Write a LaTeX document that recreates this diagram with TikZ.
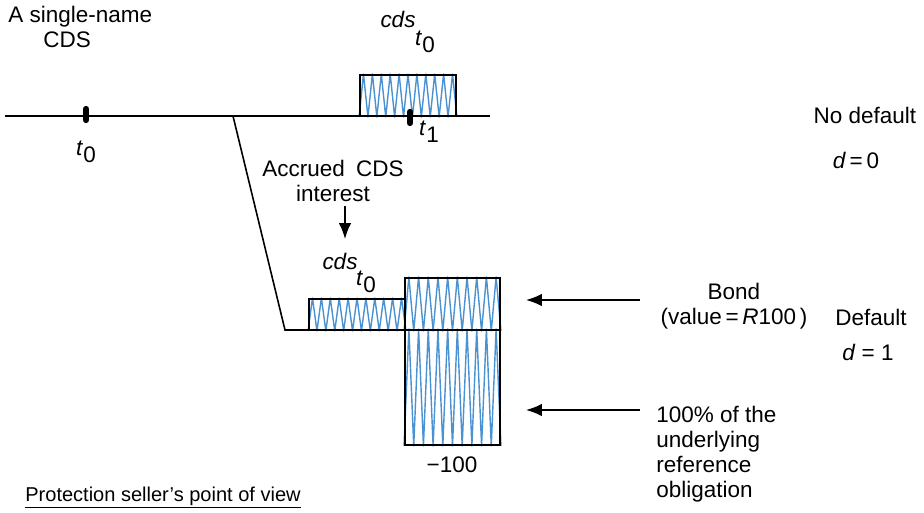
\documentclass[tikz,border=0pt]{standalone}
\usepackage{fontspec}
\setmainfont{Liberation Sans}
\usepackage{xcolor}
\usetikzlibrary{arrows.meta, positioning, backgrounds, calc}

\definecolor{zzblue}{RGB}{74,146,210}
\newcommand{\tsub}[1]{\textit{t}\raisebox{-0.6ex}{#1}}
% blue zigzag fill for a box node: name, number of teeth
\newcommand{\zigfill}[2]{%
  \draw[zigzag] (#1.south west) \foreach \k in {1,...,#2}{
    -- ($(#1.north west)!{(\k-0.5)/#2}!(#1.north east)$)
    -- ($(#1.south west)!{\k/#2}!(#1.south east)$) };}

\begin{document}
\begin{tikzpicture}[
    x=0.02cm, y=-0.02cm,
    txt/.style={font=\fontsize{12.8}{14.2}\selectfont, align=center, inner sep=0pt},
    cashbox/.style={rectangle, draw=black, line width=1.1pt, inner sep=0pt},
    zigzag/.style={zzblue, line width=0.8pt, line join=round},
    axis/.style={line width=0.9pt},
    tickmark/.style={line width=3.6pt, line cap=round},
    arrow/.style={-{Latex[length=9pt, width=7pt]}, line width=0.8pt}
]
\useasboundingbox (0,0) rectangle (924,513);

% Time line
\coordinate (start) at (5,116);
\coordinate (end) at (490,116);
\coordinate (branch) at (233,116);
\coordinate (kink) at (285,330);
\coordinate (lowend) at (500,330);

% Cash flows
\node[cashbox, minimum width=1.92cm, minimum height=0.82cm] (fee) at (408,95.5) {};
\node[cashbox, minimum width=1.92cm, minimum height=0.62cm] (accrued) at (357,314.5) {};
\node[cashbox, minimum width=1.9cm, minimum height=1.04cm] (bond) at (452.5,304) {};
\node[cashbox, minimum width=1.9cm, minimum height=2.3cm] (loss) at (452.5,387.5) {};

\begin{scope}[on background layer]
\zigfill{fee}{11}
\zigfill{accrued}{11}
\zigfill{bond}{10}
\zigfill{loss}{10}
\end{scope}

\draw[axis] (start) -- (end);
\draw[axis] (branch) -- (kink) -- (lowend);

% Ticks
\draw[tickmark] (86,109) -- (86,120);
\draw[tickmark] (410,112) -- (410,123);

% Labels
\node[txt, anchor=north west, align=left] (title) at (8,6) {A single-name\\\hspace*{20pt}CDS};
\node[txt] (t0) at (86,152) {\tsub{0}};
\node[txt] (t1) at (429,132) {\tsub{1}};
\node[txt] (cdsfee) at (398,19) {\textit{cds}};
\node[txt] (cdsfeesub) at (425,42) {\tsub{0}};
\node[txt] (accr) at (333,181) {Accrued\enspace CDS\\interest};
\node[txt] (cdsacc) at (340,261) {\textit{cds}};
\node[txt] (cdsaccsub) at (366,282) {\tsub{0}};
\node[txt] (bondtxt) at (734,306) {Bond\\(value\,=\,\textit{R}100\,)};
\node[txt, align=left, anchor=north west] (reftxt) at (656,406) {100\% of the\\underlying\\reference\\obligation};
\node[txt] (minus) at (452,465) {−100};
\node[txt] (nodef) at (865,115) {No default};
\node[txt] (d0) at (856,160) {\textit{d}\,=\,0};
\node[txt] (def) at (871,317) {Default};
\node[txt] (d1) at (868,352) {\textit{d} = 1};
\node[txt, font=\fontsize{11.4}{14}\selectfont, anchor=base west] (view) at (25,501) {\underline{Protection seller’s point of view}};

% Arrows
\coordinate (accrtip) at (345,239);
\coordinate (bondtail) at (640,300);
\coordinate (bondtip) at (526,300);
\coordinate (reftail) at (640,410);
\coordinate (reftip) at (526,410);
\draw[arrow] (accr.south -| accrtip) ++(0,4) -- (accrtip);
\draw[arrow] (bondtail) -- (bondtip);
\draw[arrow] (reftail) -- (reftip);

\end{tikzpicture}
\end{document}
